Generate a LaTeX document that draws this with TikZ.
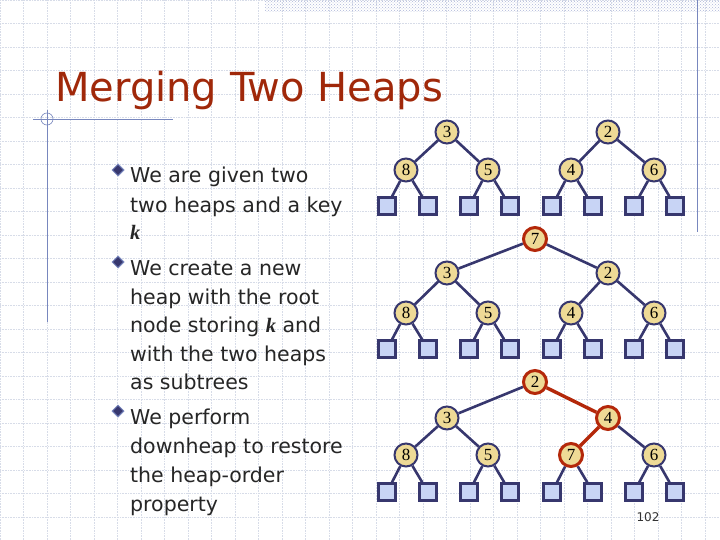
\documentclass[tikz,border=0pt]{standalone}
\usepackage{fontspec}
\setmainfont{DejaVu Sans}
\newfontfamily\serifk{Liberation Serif}
\newfontfamily\numf{Liberation Serif}
\usetikzlibrary{patterns,shapes.geometric}
\definecolor{edgeblue}{RGB}{55,55,110}
\definecolor{nodefill}{RGB}{238,218,150}
\definecolor{leaffill}{RGB}{200,212,245}
\definecolor{redc}{RGB}{180,40,10}
\definecolor{titlec}{RGB}{160,40,10}
\definecolor{gridc}{RGB}{215,220,232}
\definecolor{decor}{RGB}{120,135,190}
\begin{document}
\begin{tikzpicture}[x=1pt,y=-1pt,
  hn/.style={circle,draw=edgeblue,line width=2pt,fill=nodefill,minimum size=23pt,inner sep=0pt,font=\numf\fontsize{17}{17}\selectfont},
  rn/.style={hn,draw=redc,line width=3pt},
  lf/.style={rectangle,draw=edgeblue,line width=2.4pt,fill=leaffill,minimum size=17pt,inner sep=0pt},
  ed/.style={draw=edgeblue,line width=2.6pt},
  rededge/.style={draw=redc,line width=3.4pt},
  txt/.style={anchor=base west,inner sep=0pt,font=\fontsize{20.5}{20.5}\selectfont,text=black!85},
  bul/.style={diamond,fill=edgeblue,draw=decor,line width=1pt,minimum size=12pt,inner sep=0pt}]
\useasboundingbox (0,0) rectangle (720,540);
\fill[white] (0,0) rectangle (720,540);
\draw[gridc,densely dotted,line width=0.6pt,step=23.5pt] (0,0) grid (720,540);
\fill[pattern=crosshatch dots,pattern color=decor!60] (265,0) rectangle (720,12);
\draw[decor,line width=0.8pt] (697,0) -- (697,232);
\draw[decor,line width=0.8pt] (33,119) -- (173,119);
\draw[decor,line width=0.8pt] (47,110) -- (47,322);
\draw[decor,line width=0.6pt] (47,119) circle (6);
\node[anchor=base west,inner sep=0pt,text=titlec,font=\fontsize{40}{40}\selectfont] (title) at (55,102) {Merging Two Heaps};
% bullets
\foreach \y/\n in {175/b1,267/b2,416/b3} \node[bul] (\n) at (118,\y-5) {};
\node[txt] (t1) at (130,183) {We are given two};
\node[txt] (t2) at (130,212) {two heaps and a key};
\node[txt] (t3) at (130,240) {\serifk\bfseries\itshape k};
\node[txt] (t4) at (130,275) {We create a new};
\node[txt] (t5) at (130,304) {heap with the root};
\node[txt] (t6) at (130,332) {node storing {\serifk\bfseries\itshape k} and};
\node[txt] (t7) at (130,361) {with the two heaps};
\node[txt] (t8) at (130,389) {as subtrees};
\node[txt] (t9) at (130,424) {We perform};
\node[txt] (t10) at (130,453) {downheap to restore};
\node[txt] (t11) at (130,482) {the heap-order};
\node[txt] (t12) at (130,511) {property};
\node[font=\fontsize{12}{12}\selectfont,text=black!80] (pg) at (648,517) {102};
% Tree 1
\node[hn] (a3) at (447,132) {3};
\node[hn] (a2) at (608,132) {2};
\node[hn] (a8) at (406,170) {8};
\node[hn] (a5) at (488,170) {5};
\node[hn] (a4) at (571,170) {4};
\node[hn] (a6) at (654,170) {6};
\foreach \i/\x in {1/387,2/428,3/469,4/510,5/552,6/593,7/634,8/675} \node[lf] (al\i) at (\x,206) {};
% Tree 2
\node[hn] (b3) at (447,273) {3};
\node[hn] (b2) at (608,273) {2};
\node[hn] (b8) at (406,313) {8};
\node[hn] (b5) at (488,313) {5};
\node[hn] (b4) at (571,313) {4};
\node[hn] (b6) at (654,313) {6};
\foreach \i/\x in {1/387,2/428,3/469,4/510,5/552,6/593,7/634,8/675} \node[lf] (bl\i) at (\x,349) {};
% Tree 3
\node[hn] (c3) at (447,418) {3};
\node[hn] (c8) at (406,455) {8};
\node[hn] (c5) at (488,455) {5};
\node[hn] (c6) at (654,455) {6};
\foreach \i/\x in {1/387,2/428,3/469,4/510,5/552,6/593,7/634,8/675} \node[lf] (cl\i) at (\x,492) {};
\foreach \p/\c in {a3/a8,a3/a5,a2/a4,a2/a6,a8/al1,a8/al2,a5/al3,a5/al4,a4/al5,a4/al6,a6/al7,a6/al8,
 b3/b8,b3/b5,b2/b4,b2/b6,b8/bl1,b8/bl2,b5/bl3,b5/bl4,b4/bl5,b4/bl6,b6/bl7,b6/bl8,
 c3/c8,c3/c5,c8/cl1,c8/cl2,c5/cl3,c5/cl4,c6/cl7,c6/cl8} \draw[ed] (\p) -- (\c);
\node[rn] (k7) at (535,239) {7};
\draw[ed] (k7) -- (b3); \draw[ed] (k7) -- (b2);
\node[rn] (c2) at (535,382) {2};
\node[rn] (c4) at (608,418) {4};
\node[rn] (c7) at (571,455) {7};
\draw[ed] (c2) -- (c3);
\draw[ed] (c4) -- (c6);
\draw[ed] (c7) -- (cl5); \draw[ed] (c7) -- (cl6);
\draw[rededge] (c2) -- (c4);
\draw[rededge] (c4) -- (c7);
\end{tikzpicture}
\end{document}
